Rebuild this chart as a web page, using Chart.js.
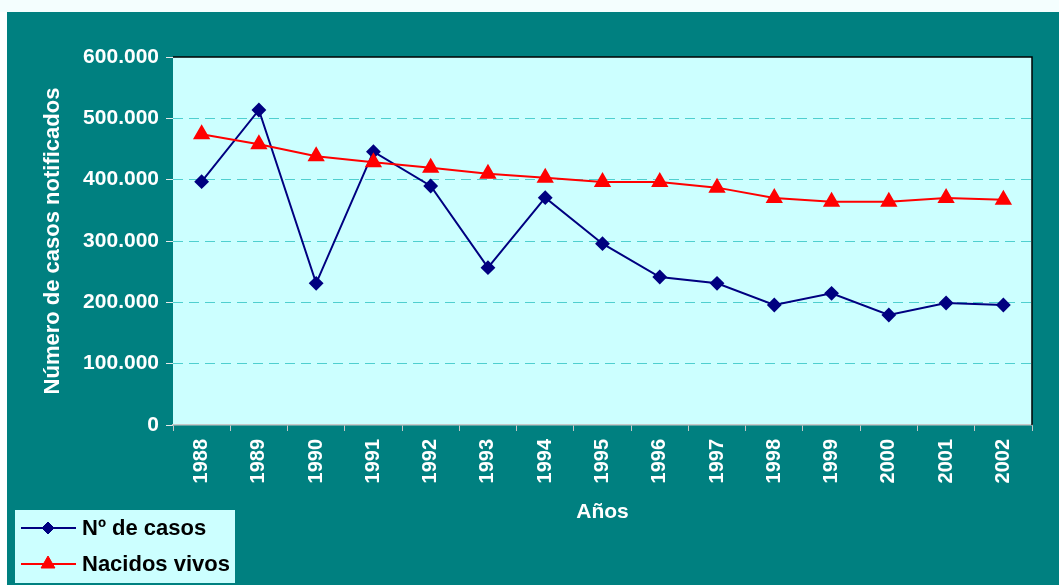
<!DOCTYPE html>
<html>
<head>
<meta charset="utf-8">
<title>Casos notificados y nacidos vivos</title>
<script src="https://cdn.jsdelivr.net/npm/chart.js@4/dist/chart.umd.min.js"></script>
<style>
    html, body { margin: 0; padding: 0; background: #fff; overflow: hidden; }
    #wrap { width: 1059px; height: 585px; }
</style>
</head>
<body>
<div id="wrap"><canvas id="casosChart" width="1059" height="585"></canvas></div>
<script>
// data
const years = ['1988', '1989', '1990', '1991', '1992', '1993', '1994', '1995',
               '1996', '1997', '1998', '1999', '2000', '2001', '2002'];
const casos = [396700, 513600, 231000, 445700, 389700, 256500, 370600, 295600,
               241300, 231000, 195700, 214700, 179400, 198900, 195700];
const nacidosVivos = [474000, 457700, 438100, 428300, 419600, 409800, 403300, 396200,
                      396200, 387000, 370100, 364100, 364100, 370100, 367400];
const yTickLabels = ['0', '100.000', '200.000', '300.000', '400.000', '500.000', '600.000'];

const FONT = "'Liberation Sans', Arial, sans-serif";

// teal frame, plot background and the black top/right border
const framePlugin = {
    id: 'frame',
    beforeDraw(chart) {
        const ctx = chart.ctx;
        const a = chart.chartArea;
        ctx.save();
        ctx.fillStyle = '#f4fefe';
        ctx.fillRect(0, 0, chart.width, 12);
        ctx.fillStyle = '#008080';
        ctx.fillRect(7, 12, chart.width - 7, chart.height - 12);
        ctx.fillStyle = '#ccffff';
        ctx.fillRect(a.left, a.top, a.right - a.left, a.bottom - a.top);
        ctx.restore();
    },
    beforeDatasetsDraw(chart) {
        const ctx = chart.ctx;
        const a = chart.chartArea;
        ctx.save();
        ctx.strokeStyle = '#000';
        ctx.lineWidth = 1.5;
        ctx.beginPath();
        ctx.moveTo(a.left, a.top);
        ctx.lineTo(a.right, a.top);
        ctx.lineTo(a.right, a.bottom);
        ctx.stroke();
        ctx.restore();
    }
};

// legend box in the bottom-left corner
const boxLegend = {
    id: 'boxLegend',
    afterDraw(chart) {
        const ctx = chart.ctx;
        ctx.save();
        ctx.fillStyle = '#ccffff';
        ctx.fillRect(15, 510, 220, 73);
        const rows = [528, 564];
        chart.data.datasets.forEach((ds, i) => {
            const y = rows[i];
            ctx.strokeStyle = ds.borderColor;
            ctx.lineWidth = 2;
            ctx.beginPath();
            ctx.moveTo(21, y);
            ctx.lineTo(76, y);
            ctx.stroke();
            ctx.fillStyle = ds.pointBackgroundColor;
            ctx.strokeStyle = ds.pointBorderColor;
            ctx.lineWidth = 1;
            Chart.helpers.drawPoint(ctx, {
                pointStyle: ds.pointStyle,
                radius: ds.pointRadius,
                rotation: 0,
                borderWidth: 1
            }, 48, y);
            ctx.fillStyle = '#000';
            ctx.font = 'bold 22px ' + FONT;
            ctx.textBaseline = 'middle';
            ctx.textAlign = 'left';
            ctx.fillText(ds.label, 82, y + 1);
        });
        ctx.restore();
    }
};

new Chart(document.getElementById('casosChart'), {
    type: 'line',
    data: {
        labels: years,
        datasets: [
            {
                label: 'Nº de casos',
                data: casos,
                borderColor: '#000080',
                backgroundColor: '#000080',
                pointBackgroundColor: '#000080',
                pointBorderColor: '#000080',
                pointStyle: 'rectRot',
                pointRadius: 6,
                borderWidth: 2,
                tension: 0,
                order: 1
            },
            {
                label: 'Nacidos vivos',
                data: nacidosVivos,
                borderColor: '#ff0000',
                backgroundColor: '#ff0000',
                pointBackgroundColor: '#ff0000',
                pointBorderColor: '#ff0000',
                pointStyle: 'triangle',
                pointRadius: 8,
                borderWidth: 2,
                tension: 0,
                order: 0
            }
        ]
    },
    options: {
        responsive: false,
        animation: false,
        layout: { padding: { left: 0, top: 57, right: 27, bottom: 0 } },
        plugins: {
            legend: { display: false },
            tooltip: { enabled: false }
        },
        scales: {
            x: {
                offset: true,
                afterFit: (scale) => { scale.height = 160; },
                grid: {
                    offset: true,
                    drawOnChartArea: false,
                    tickLength: 6,
                    tickColor: '#c8c8c8'
                },
                border: { color: '#c8c8c8', width: 1.5 },
                ticks: {
                    color: '#fff',
                    font: { family: FONT, size: 20, weight: 'bold' },
                    minRotation: 90,
                    maxRotation: 90,
                    autoSkip: false,
                    padding: 8
                },
                title: {
                    display: true,
                    text: 'Años',
                    color: '#fff',
                    font: { family: FONT, size: 21, weight: 'bold' },
                    padding: { top: 0, bottom: 60 }
                }
            },
            y: {
                min: 0,
                max: 600000,
                afterFit: (scale) => { scale.width = 173; },
                grid: {
                    color: (c) => (c.tick && c.tick.value > 0 && c.tick.value < 600000) ? '#4fcfcf' : 'rgba(0,0,0,0)',
                    tickBorderDash: [],
                    tickLength: 7,
                    tickColor: '#e8e8e8'
                },
                border: { display: false, dash: [10, 6] },
                ticks: {
                    stepSize: 100000,
                    color: '#fff',
                    font: { family: FONT, size: 21, weight: 'bold' },
                    padding: 7,
                    callback: (v, i) => yTickLabels[i]
                },
                title: {
                    display: true,
                    text: 'Número de casos notificados',
                    color: '#fff',
                    font: { family: FONT, size: 22, weight: 'bold' },
                    padding: { top: 40, bottom: 0 }
                }
            }
        }
    },
    plugins: [framePlugin, boxLegend]
});
</script>
</body>
</html>
